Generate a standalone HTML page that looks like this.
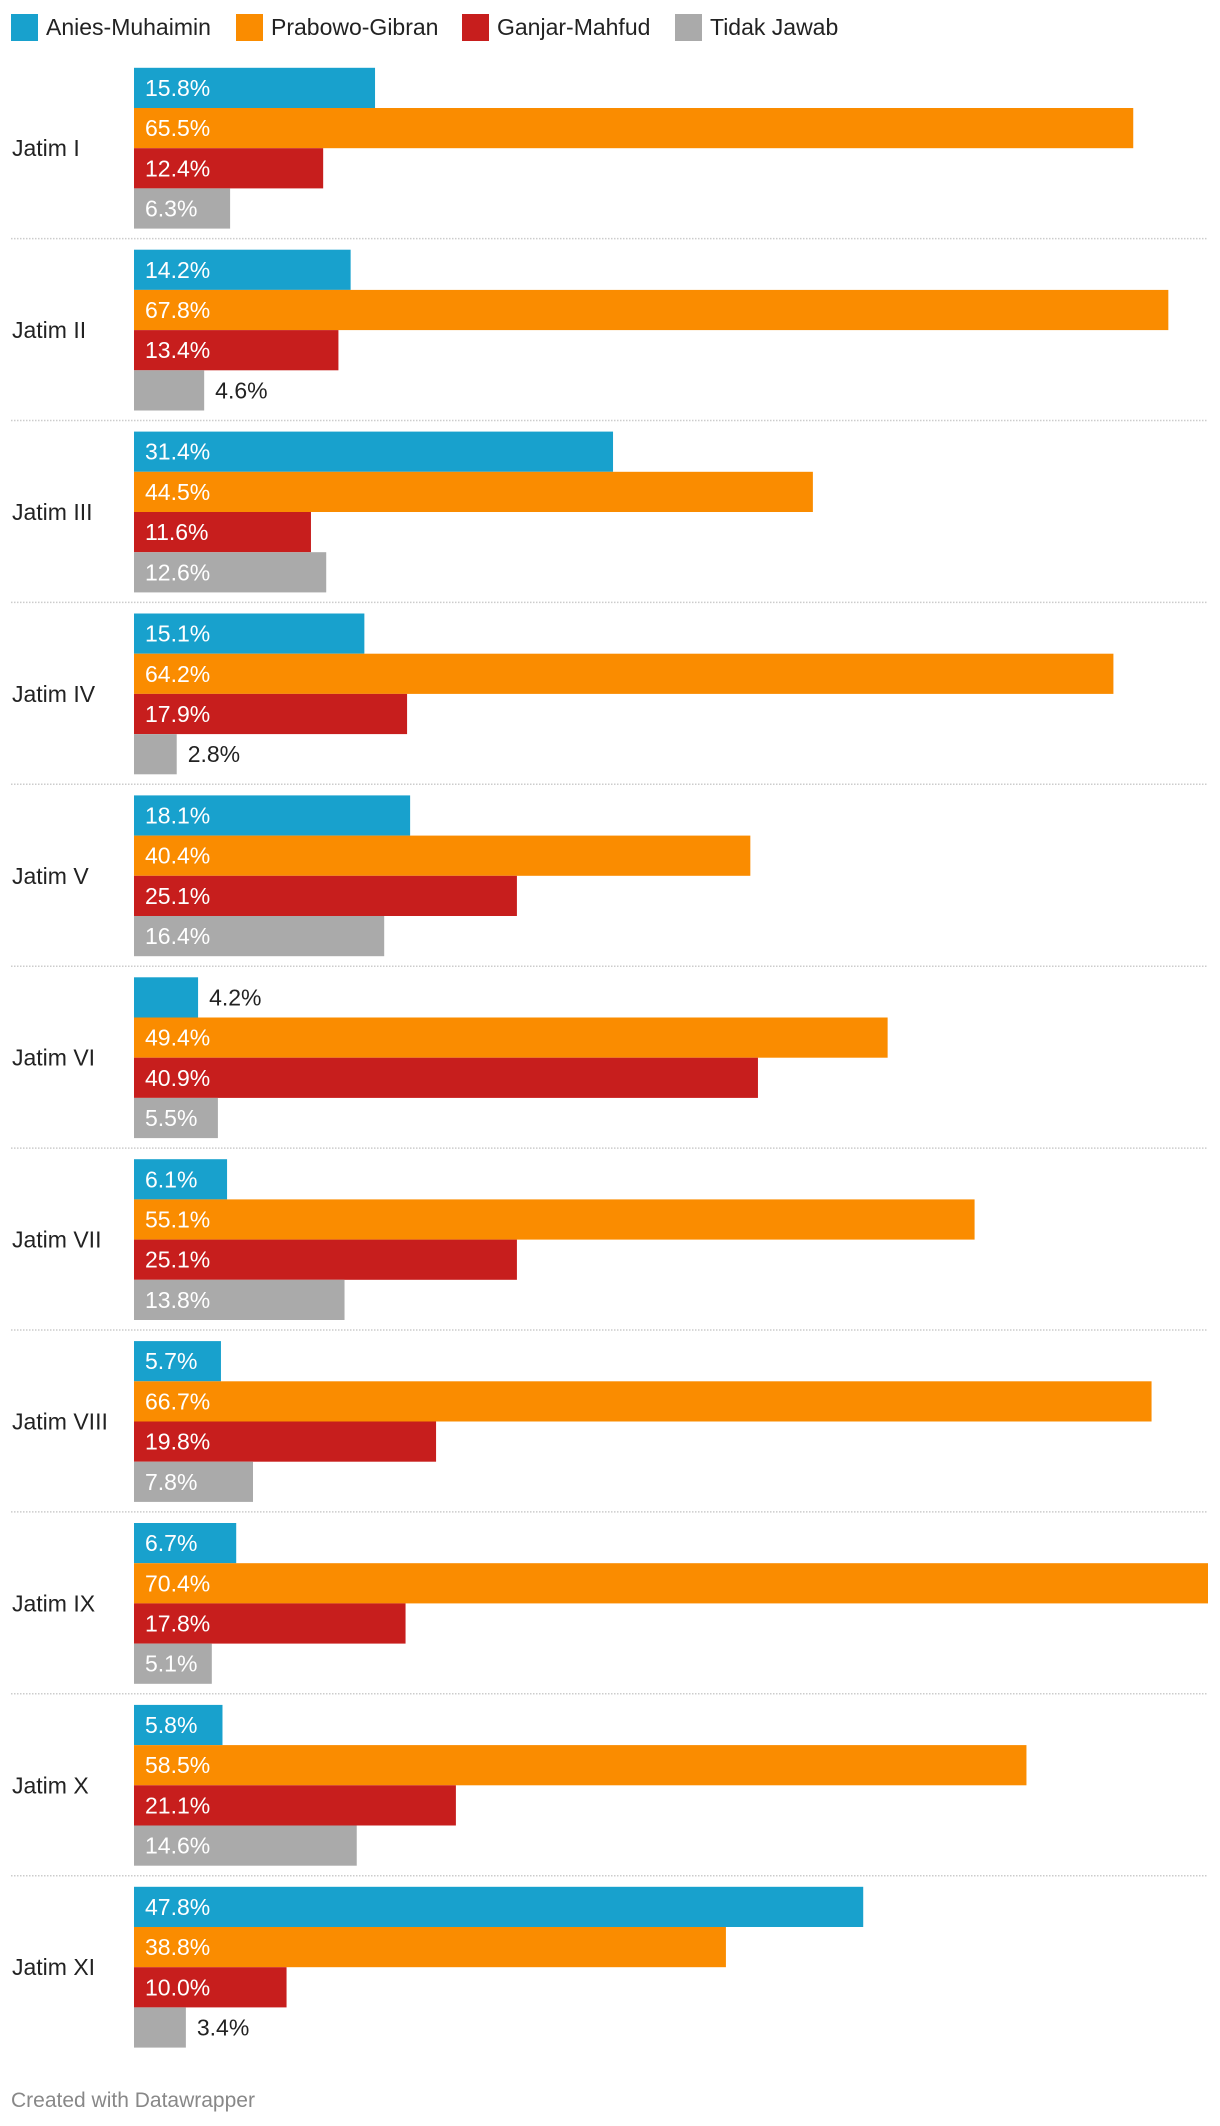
<!DOCTYPE html>
<html><head><meta charset="utf-8">
<style>
html,body{margin:0;padding:0;background:#fff;width:1220px;height:2126px;overflow:hidden;}
svg{display:block;font-family:"Liberation Sans",Arial,sans-serif;}
</style></head>
<body>
<svg id="chart" width="1220" height="2126" viewBox="0 0 1220 2126"></svg>
<script>
const categories = ["Jatim I","Jatim II","Jatim III","Jatim IV","Jatim V","Jatim VI","Jatim VII","Jatim VIII","Jatim IX","Jatim X","Jatim XI"];
const seriesNames = ["Anies-Muhaimin","Prabowo-Gibran","Ganjar-Mahfud","Tidak Jawab"];
const aniesValues = [15.8,14.2,31.4,15.1,18.1,4.2,6.1,5.7,6.7,5.8,47.8];
const prabowoValues = [65.5,67.8,44.5,64.2,40.4,49.4,55.1,66.7,70.4,58.5,38.8];
const ganjarValues = [12.4,13.4,11.6,17.9,25.1,40.9,25.1,19.8,17.8,21.1,10.0];
const tidakValues = [6.3,4.6,12.6,2.8,16.4,5.5,13.8,7.8,5.1,14.6,3.4];

const colors = ["#18a1cd","#fa8c00","#c71e1d","#aaaaaa"];
const allSeries = [aniesValues, prabowoValues, ganjarValues, tidakValues];
const NS = "http://www.w3.org/2000/svg";
const svg = document.getElementById("chart");
const x0 = 134, x1 = 1208;
const maxV = Math.max(...allSeries.flat());
const xScale = v => x0 + (v / maxV) * (x1 - x0);
const top0 = 67.8, pitch = 181.9, barH = 40.2;
const yScale = (gi, si) => top0 + gi * pitch + si * barH;

function mk(tag, attrs){const e=document.createElementNS(NS,tag);for(const k in attrs)e.setAttribute(k,attrs[k]);svg.appendChild(e);return e;}

const legendX = [11, 236, 462, 675];
seriesNames.forEach((n,i)=>{
  const r = mk("rect",{x:legendX[i],y:14,width:27,height:27,fill:colors[i]});
  
  
  const t = mk("text",{x:legendX[i]+35,y:35,"font-size":23,fill:"#222"});
  t.textContent = n;
  
  
});

categories.forEach((c,gi)=>{
  const gTop = yScale(gi,0);
  const lbl = mk("text",{x:12,y:gTop+2*barH+8,"font-size":23,fill:"#222"});
  lbl.textContent = c;
  
  
  allSeries.forEach((arr,si)=>{
    const v = arr[gi];
    const y = yScale(gi,si);
    const w = xScale(v)-x0;
    const r = mk("rect",{x:x0,y:y,width:w,height:barH,fill:colors[si]});
    
    
    const inside = v >= 5;
    const t = mk("text",{x: inside ? x0+11 : x0+w+11, y:y+barH/2+8,"font-size":23,fill: inside?"#fff":"#222"});
    t.textContent = v.toFixed(1)+"%";
    
    
  });
  if (gi < categories.length-1){
    const sy = gTop + 4*barH + 10;
    const l = mk("line",{x1:11,x2:1208,y1:sy,y2:sy,stroke:"#cccccc","stroke-width":1.5,"stroke-dasharray":"1.5,1.5"});
    
    
  }
});
const f = mk("text",{x:11,y:2107,"font-size":21,fill:"#888"});
f.textContent = "Created with Datawrapper";


</script>
</body></html>
